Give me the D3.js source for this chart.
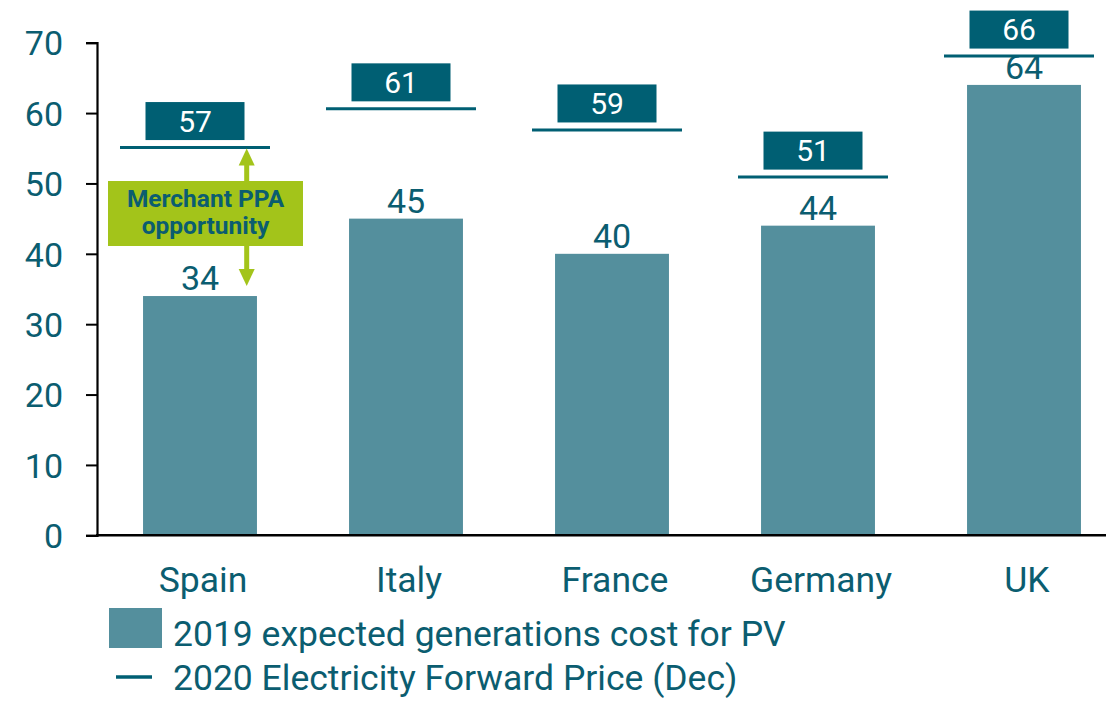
<!DOCTYPE html>
<html>
<head>
<meta charset="utf-8">
<title>PV cost vs forward price</title>
<script src="https://cdnjs.cloudflare.com/ajax/libs/d3/7.8.5/d3.min.js"></script>
<style>
    body { margin: 0; background: #fff; }
    text { font-family: Roboto, "Open Sans", sans-serif; fill: #0b5d70; }
    .tick text { font-size: 34px; }
    .box-label { fill: #fff; font-size: 30px; text-anchor: middle; }
</style>
</head>
<body>
<svg id="chart" width="1106" height="701"></svg>
<script>
    // data
    var countries = ["Spain", "Italy", "France", "Germany", "UK"];
    var pvCost = [34, 45, 40, 44, 64];             // 2019 expected generation cost for PV
    var forwardPrice = [57, 61, 59, 51, 66];       // printed 2020 forward price
    var forwardLevel = [55.1, 60.6, 57.6, 50.9, 68.1]; // where the price line sits on the axis
    var yTicks = [0, 10, 20, 30, 40, 50, 60, 70];
    var legendLabels = ["2019 expected generations cost for PV", "2020 Electricity Forward Price (Dec)"];

    var barColor = "#548f9d",
        darkTeal = "#005f73",
        green = "#a3c41a";

    var svg = d3.select("#chart");

    var x = d3.scaleBand()
        .domain(countries)
        .range([97, 1127])
        .paddingInner(0.447)
        .paddingOuter(0.2235);

    var y = d3.scaleLinear()
        .domain([0, 70])
        .range([535.3, 42.7]);

    // y axis
    var yAxis = svg.append("g")
        .attr("transform", "translate(97,0)")
        .call(d3.axisLeft(y).tickValues(yTicks).tickSize(11).tickPadding(23));
    yAxis.select(".domain").attr("stroke", "#000").attr("stroke-width", 2.2);
    yAxis.selectAll(".tick line").attr("stroke", "#000").attr("stroke-width", 2);
    yAxis.selectAll(".tick text").attr("fill", "#0b5d70").attr("dy", "0.36em");

    // bars
    svg.selectAll(".bar")
        .data(pvCost)
        .enter().append("rect")
        .attr("class", "bar")
        .attr("x", function(d, i) { return x(countries[i]); })
        .attr("y", function(d) { return y(d); })
        .attr("width", x.bandwidth())
        .attr("height", function(d) { return y(0) - y(d); })
        .attr("fill", barColor);

    // bar values
    svg.selectAll(".bar-label")
        .data(pvCost)
        .enter().append("text")
        .attr("class", "bar-label")
        .attr("x", function(d, i) { return x(countries[i]) + x.bandwidth() / 2; })
        .attr("y", function(d) { return y(d) - 6; })
        .attr("text-anchor", "middle")
        .style("font-size", "34px")
        .text(function(d) { return d; });

    // x axis line
    svg.append("line")
        .attr("x1", 96).attr("x2", 1106)
        .attr("y1", y(0)).attr("y2", y(0))
        .attr("stroke", "#000").attr("stroke-width", 2.5);

    // category labels
    svg.selectAll(".cat")
        .data(countries)
        .enter().append("text")
        .attr("class", "cat")
        .attr("x", function(d) { return x(d) + x.bandwidth() / 2 + 3; })
        .attr("y", 592)
        .attr("text-anchor", "middle")
        .style("font-size", "35.5px")
        .text(function(d) { return d; });

    // forward price lines with boxed labels
    var lineCenter = function(i) { return x(countries[i]) + x.bandwidth() / 2 - 5; };

    var fp = svg.selectAll(".fp")
        .data(forwardLevel)
        .enter().append("g")
        .attr("class", "fp");

    fp.append("line")
        .attr("x1", function(d, i) { return lineCenter(i) - 75; })
        .attr("x2", function(d, i) { return lineCenter(i) + 75; })
        .attr("y1", function(d) { return y(d); })
        .attr("y2", function(d) { return y(d); })
        .attr("stroke", darkTeal)
        .attr("stroke-width", 3);

    fp.append("rect")
        .attr("x", function(d, i) { return lineCenter(i) - 49.5; })
        .attr("y", function(d) { return y(d) - 7.5 - 38; })
        .attr("width", 99)
        .attr("height", 38)
        .attr("fill", darkTeal);

    fp.append("text")
        .attr("class", "box-label")
        .attr("x", function(d, i) { return lineCenter(i); })
        .attr("y", function(d) { return y(d) - 7.5 - 19; })
        .attr("dy", "0.36em")
        .text(function(d, i) { return forwardPrice[i]; });

    // merchant PPA annotation (Spain)
    var ax = 246.7,
        yTop = y(forwardLevel[0]) + 1,
        yBot = y(pvCost[0]) - 10;

    svg.append("line")
        .attr("x1", ax).attr("x2", ax)
        .attr("y1", yTop + 15).attr("y2", yBot - 15)
        .attr("stroke", green).attr("stroke-width", 5);
    svg.append("path")
        .attr("d", "M" + ax + "," + yTop + "L" + (ax - 8) + "," + (yTop + 17) + "L" + (ax + 8) + "," + (yTop + 17) + "Z")
        .attr("fill", green);
    svg.append("path")
        .attr("d", "M" + ax + "," + yBot + "L" + (ax - 8) + "," + (yBot - 17) + "L" + (ax + 8) + "," + (yBot - 17) + "Z")
        .attr("fill", green);

    svg.append("rect")
        .attr("x", 108).attr("y", 181)
        .attr("width", 195).attr("height", 65)
        .attr("fill", green);

    svg.append("text")
        .attr("x", 205.5)
        .attr("text-anchor", "middle")
        .style("font-size", "24.5px")
        .style("font-weight", "bold")
        .selectAll("tspan")
        .data(["Merchant PPA", "opportunity"])
        .enter().append("tspan")
        .attr("x", 205.5)
        .attr("y", function(d, i) { return 206.5 + i * 27.5; })
        .text(function(d) { return d; });

    // legend
    svg.append("rect")
        .attr("x", 109).attr("y", 608)
        .attr("width", 53).attr("height", 40)
        .attr("fill", barColor);
    svg.append("line")
        .attr("x1", 116).attr("x2", 152)
        .attr("y1", 677).attr("y2", 677)
        .attr("stroke", darkTeal).attr("stroke-width", 3.5);

    svg.selectAll(".legend-text")
        .data(legendLabels)
        .enter().append("text")
        .attr("class", "legend-text")
        .attr("x", 173)
        .attr("y", function(d, i) { return 645.5 + i * 44; })
        .style("font-size", "35.5px")
        .text(function(d) { return d; });
</script>
</body>
</html>
